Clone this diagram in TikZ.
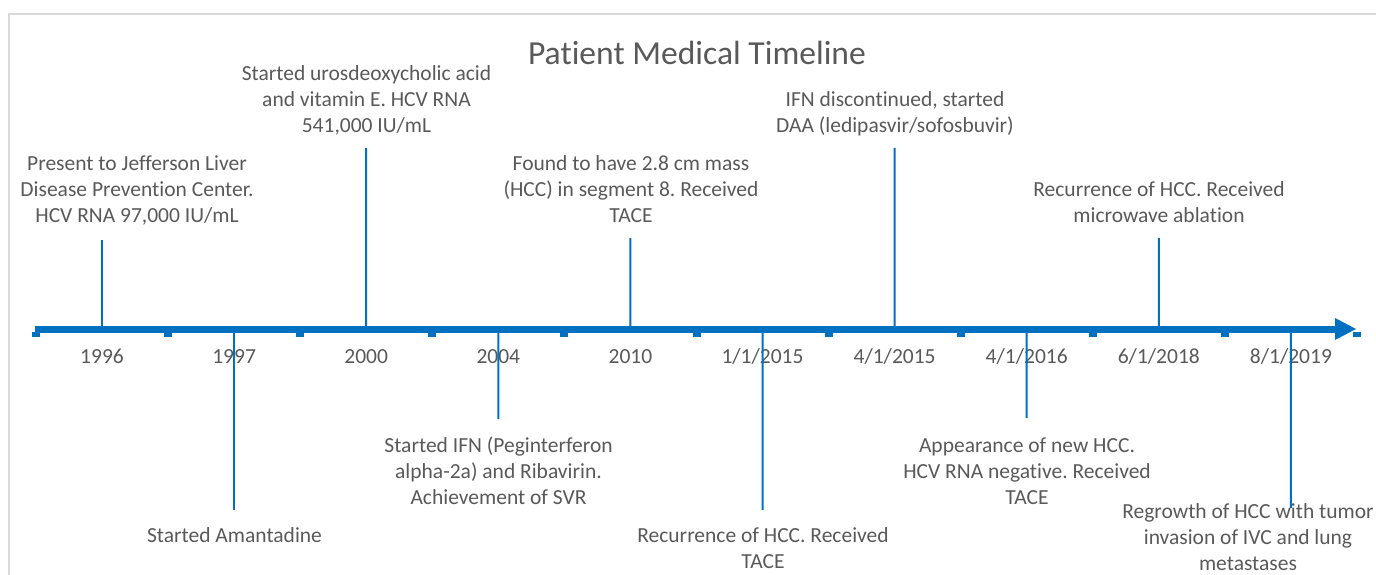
\documentclass[tikz,border=0pt]{standalone}
\usepackage{fontspec}
\setmainfont{Carlito}[Ligatures={NoCommon}]
\definecolor{tlblue}{HTML}{0070C0}
\definecolor{txtgray}{HTML}{595959}
\definecolor{framegray}{HTML}{D9D9D9}
\frenchspacing
\begin{document}
\begin{tikzpicture}[x=1pt,y=-1pt,
  evt/.style={font=\fontsize{21.5}{26}\selectfont, text=txtgray, align=center, inner sep=0pt, anchor=base},
  datelbl/.style={font=\fontsize{21.5}{26}\selectfont, text=txtgray, inner sep=0pt, anchor=base},
  titlelbl/.style={font=\fontsize{33.6}{40}\selectfont, text=txtgray, inner sep=0pt, anchor=base},
  stem/.style={draw=tlblue, line width=2pt},
  axisline/.style={draw=tlblue, line width=7pt},
  tickmark/.style={fill=tlblue}]
\useasboundingbox (0,0) rectangle (1376,575);
% chart frame
\draw[framegray, line width=2pt] (9,576) -- (9,14) -- (1377,14);
% title
\node[titlelbl] (title) at (697,65) {Patient Medical Timeline};
% axis with arrow head
\coordinate (axL) at (35,329);
\coordinate (axR) at (1337,329);
\draw[axisline] (axL) -- (axR);
\fill[tlblue] (1335,318) -- (1356,329) -- (1335,340) -- cycle;
\foreach \i in {0,...,10}{
  \fill[tickmark] ({36+132.1*\i-4},332) rectangle ({36+132.1*\i+4},336.5);
}
% date labels and event anchors
\foreach \d/\lab [count=\k from 0] in {a/1996,b/1997,c/2000,d/2004,e/2010,f/1\slash1\slash2015,g/4\slash1\slash2015,h/4\slash1\slash2016,i/6\slash1\slash2018,j/8\slash1\slash2019}{
  \coordinate (p\d) at ({102+132.1*\k},329);
  \node[datelbl] (date\d) at ({102+132.1*\k},363) {\lab};
}
% stem end points
\coordinate (sa) at (102,240);
\coordinate (sb) at (234.1,510);
\coordinate (sc) at (366.2,148);
\coordinate (sd) at (498.3,419);
\coordinate (se) at (630.4,238);
\coordinate (sf) at (762.5,510);
\coordinate (sg) at (894.6,148);
\coordinate (sh) at (1026.7,418);
\coordinate (si) at (1158.8,238);
\coordinate (sj) at (1290.9,508);
\foreach \d in {a,...,j}{ \draw[stem] (p\d) -- (s\d); }
% event texts (anchored at the baseline of their last line)
\node[evt] (ea) at (137,222) {Present to Jefferson Liver\\Disease Prevention Center.\\HCV RNA 97,000 IU/mL};
\node[evt] (eb) at (234.5,542) {Started Amantadine};
\node[evt] (ec) at (366.5,133) {Started urosdeoxycholic acid\\and vitamin E. HCV RNA\\541,000 IU/mL};
\node[evt] (ed) at (498.5,504) {Started IFN (Peginterferon\\alpha-2a) and Ribavirin.\\Achievement of SVR};
\node[evt] (ee) at (631,222) {Found to have 2.8 cm mass\\(HCC) in segment 8. Received\\TACE};
\node[evt] (ef) at (763,568) {Recurrence of HCC. Received\\TACE};
\node[evt] (eg) at (895,133) {IFN discontinued, started\\DAA (ledipasvir/sofosbuvir)};
\node[evt] (eh) at (1027,504) {Appearance of new HCC.\\HCV RNA negative. Received\\TACE};
\node[evt] (ei) at (1159,222) {Recurrence of HCC. Received\\microwave ablation};
\node[evt] (ej) at (1248,570) {Regrowth of HCC with tumor\\invasion of IVC and lung\\metastases};
\end{tikzpicture}
\end{document}
